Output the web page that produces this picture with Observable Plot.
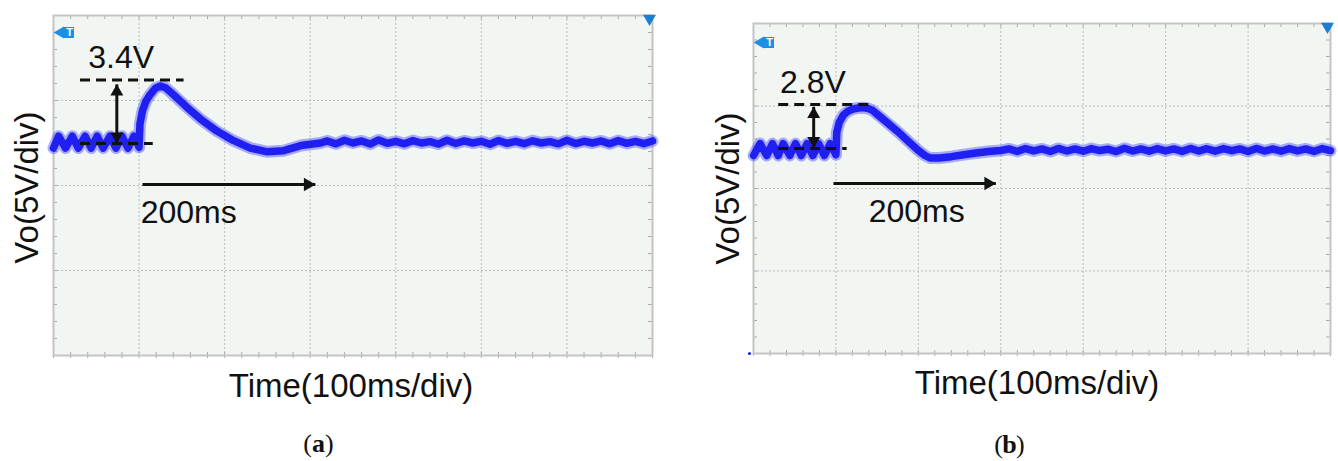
<!DOCTYPE html>
<html><head><meta charset="utf-8">
<script src="https://cdn.jsdelivr.net/npm/d3@7"></script>
<script src="https://cdn.jsdelivr.net/npm/@observablehq/plot@0.6"></script>
<style>
html,body{margin:0;padding:0;background:#fff;}
#wrap{position:relative;width:1338px;height:461px;overflow:hidden;background:#fff;}
#pa{position:absolute;left:0;top:0;}
#pb{position:absolute;left:700px;top:0;}
svg{overflow:visible}
</style></head>
<body><div id="wrap"><div id="pa"></div><div id="pb"></div></div>
<script>
// ---------- axis / grid definitions ----------
const X_DOMAIN = [0, 700];           // ms (100 ms/div, 7 div)
const Y_DOMAIN = [0, 20];            // V  (5 V/div, 4 div)
const X_GRID = [100, 200, 300, 400, 500, 600];
const Y_GRID = [5, 10, 15];
const X_MINOR = d3.range(0, 701, 20);
const Y_MINOR = d3.range(0, 21, 1);
const X_LABEL = "Time(100ms/div)";
const Y_LABEL = "Vo(5V/div)";

// ---------- panel (a) trace ----------
const timeA = [0,6,14,22,29,37,44,51,58,66,73,80,87,94,100,
  101,104,108,113,119,125,131,140,156,172,191,210,230,250,269,289,312,
  320,330,340,350,360,370,380,390,400,410,420,430,440,450,460,470,480,490,500,
  510,520,530,540,550,560,570,580,590,600,610,620,630,640,650,660,670,680,690,700];
const voltsA = [12.2,12.9,12.2,12.9,12.2,12.9,12.2,12.9,12.2,12.9,12.2,12.9,12.2,12.9,12.25,
  13.6,14.4,14.95,15.35,15.72,15.85,15.75,15.35,14.6,13.9,13.2,12.65,12.2,11.98,12.05,12.35,12.5,
  12.62,12.45,12.66,12.5,12.62,12.44,12.68,12.48,12.6,12.45,12.64,12.5,12.58,12.44,12.66,12.47,12.62,12.5,12.6,
  12.43,12.65,12.48,12.6,12.46,12.63,12.5,12.58,12.45,12.66,12.47,12.6,12.5,12.62,12.45,12.64,12.48,12.6,12.46,12.62];

// ---------- panel (b) trace ----------
const timeB = [0,8,16,23,30,36,44,51,58,65,72,79,86,93,100,
  101,104,109,115,121,127,133,139,144,150,162,175,187,199,208,214,225,240,255,270,285,300,
  310,320,330,340,350,360,370,380,390,400,410,420,430,440,450,460,470,480,490,500,
  510,520,530,540,550,560,570,580,590,600,610,620,630,640,650,660,670,680,690,700];
const voltsB = [12.0,12.72,12.0,12.72,12.0,12.72,12.0,12.72,12.0,12.72,12.0,12.72,12.0,12.72,12.05,
  13.4,14.0,14.45,14.7,14.82,14.88,14.9,14.85,14.75,14.5,14.0,13.45,12.9,12.35,12.0,11.85,11.85,11.93,12.05,12.15,12.24,12.3,
  12.4,12.25,12.42,12.28,12.4,12.24,12.43,12.27,12.4,12.26,12.42,12.3,12.38,12.24,12.44,12.27,12.4,12.26,12.42,12.28,
  12.4,12.25,12.43,12.27,12.41,12.26,12.42,12.29,12.4,12.24,12.43,12.27,12.4,12.26,12.42,12.28,12.4,12.25,12.42,12.3];

// ---------- annotations (data coordinates) ----------
const dashA = [{x1: 31, x2: 152, y: 16.2}, {x1: 31, x2: 116, y: 12.47}];
const vArrowA = [{x: 74, y1: 12.47, y2: 15.95}];
const hArrowA = [{x1: 104, x2: 306, y: 10.06}];
const textA = [{x: 79, y: 16.9, text: "3.4V"}, {x: 158, y: 7.82, text: "200ms"}];

const dashB = [{x1: 30, x2: 144, y: 15.09}, {x1: 30, x2: 113, y: 12.42}];
const vArrowB = [{x: 73, y1: 12.45, y2: 14.95}];
const hArrowB = [{x1: 97, x2: 294, y: 10.3}];
const textB = [{x: 72, y: 15.76, text: "2.8V"}, {x: 198, y: 7.94, text: "200ms"}];

const SANS = "Liberation Sans, Arial, Helvetica, sans-serif";
const SERIF = "Liberation Serif, Times New Roman, serif";
const INK = "#111";

function panel(cfg) {
  const H = 461;
  const fw = cfg.W - cfg.ml - cfg.mr, fh = H - cfg.mt - cfg.mb;
  const trace = cfg.time.map((t, i) => ({t, v: cfg.volts[i]}));
  const tick = "#a9a9a9";
  return Plot.plot({
    width: cfg.W, height: H,
    marginLeft: cfg.ml, marginRight: cfg.mr, marginTop: cfg.mt, marginBottom: cfg.mb,
    x: {domain: X_DOMAIN, axis: null},
    y: {domain: Y_DOMAIN, axis: null},
    style: {background: "transparent", overflow: "visible"},
    marks: [
      Plot.frame({fill: "#f1f6f3", stroke: null}),
      Plot.ruleX(X_GRID, {stroke: "#bcbcbc", strokeDasharray: "2,2"}),
      Plot.ruleY(Y_GRID, {stroke: "#bcbcbc", strokeDasharray: "2,2"}),
      Plot.ruleX(X_MINOR, {stroke: tick, insetBottom: fh - 4}),
      Plot.ruleX(X_MINOR, {stroke: tick, insetTop: fh - 3, insetBottom: -3}),
      Plot.ruleY(Y_MINOR, {stroke: tick, insetRight: fw - 4}),
      Plot.ruleY(Y_MINOR, {stroke: tick, insetLeft: fw - 4}),
      Plot.frame({stroke: "#c4c4c4", strokeWidth: 2}),
      // markers
      Plot.dot([0], {frameAnchor: "top-left", dx: cfg.tdx, dy: cfg.tdy, symbol: "square", r: 6.2, fill: "#1d8fe4"}),
      Plot.dot([0], {frameAnchor: "top-left", dx: cfg.tdx - 8, dy: cfg.tdy, symbol: "triangle", rotate: -90, r: 4.4, fill: "#1d8fe4"}),
      Plot.text(["T"], {text: d => d, frameAnchor: "top-left", dx: cfg.tdx + 1, dy: cfg.tdy, fill: "#fff", fontSize: 11, fontWeight: "bold", fontFamily: SANS, lineAnchor: "middle", textAnchor: "middle"}),
      Plot.dot([0], {frameAnchor: "top-right", dx: -3, dy: 3, symbol: "triangle", rotate: 180, r: 4.8, fill: "#1a7fd4"}),
      // trace
      Plot.line(trace, {x: "t", y: "v", stroke: "#3a3aff", strokeWidth: 12, strokeOpacity: 0.4}),
      Plot.line(trace, {x: "t", y: "v", stroke: "#1f1ff2", strokeWidth: 7.5}),
      // annotations
      Plot.link(cfg.dash, {x1: "x1", x2: "x2", y1: "y", y2: "y", stroke: INK, strokeWidth: 3, strokeDasharray: "10,6"}),
      Plot.link(cfg.vArrow, {x1: "x", x2: "x", y1: "y1", y2: "y2", stroke: INK, strokeWidth: 3}),
      Plot.dot(cfg.vArrow, {x: "x", y: "y2", symbol: "triangle", r: 4.8, fill: INK, dy: 7.4}),
      Plot.dot(cfg.vArrow, {x: "x", y: "y1", symbol: "triangle", rotate: 180, r: 4.8, fill: INK, dy: -7.4}),
      Plot.link(cfg.hArrow, {x1: "x1", x2: "x2", y1: "y", y2: "y", stroke: INK, strokeWidth: 3}),
      Plot.dot(cfg.hArrow, {x: "x2", y: "y", symbol: "triangle", rotate: 90, r: 5, fill: INK, dx: -7.6}),
      Plot.text(cfg.texts, {x: "x", y: "y", text: "text", fontSize: 32, lineAnchor: "bottom", fill: INK, fontFamily: SANS}),
      // axis labels
      Plot.text([Y_LABEL], {text: d => d, frameAnchor: "left", dx: cfg.yDx, dy: cfg.yDy, rotate: -90, fontSize: 33, fill: INK, fontFamily: SANS, lineAnchor: "middle", textAnchor: "middle"}),
      Plot.text([X_LABEL], {text: d => d, frameAnchor: "bottom", dx: cfg.xDx, dy: cfg.xDy, fontSize: 33, fill: INK, fontFamily: SANS, lineAnchor: "middle", textAnchor: "middle"}),
      // caption
      Plot.text(["("], {text: d => d, frameAnchor: "bottom", dx: cfg.cDx - 6.5, dy: cfg.cDy, textAnchor: "end", fontSize: 26, fill: INK, fontFamily: SERIF, lineAnchor: "bottom"}),
      Plot.text([cfg.cap], {text: d => d, frameAnchor: "bottom", dx: cfg.cDx, dy: cfg.cDy, textAnchor: "middle", fontSize: 26, fontWeight: "bold", fill: INK, fontFamily: SERIF, lineAnchor: "bottom"}),
      Plot.text([")"], {text: d => d, frameAnchor: "bottom", dx: cfg.cDx + 6.5, dy: cfg.cDy, textAnchor: "start", fontSize: 26, fill: INK, fontFamily: SERIF, lineAnchor: "bottom"}),
      ...(cfg.extraDot ? [Plot.dot([0], {frameAnchor: "bottom-left", dx: -4, r: 1.6, fill: "#2222ee"})] : [])
    ]
  });
}

document.getElementById("pa").appendChild(panel({
  time: timeA, volts: voltsA, dash: dashA, vArrow: vArrowA, hArrow: hArrowA, texts: textA,
  W: 700, ml: 53, mr: 48, mt: 15, mb: 106,
  tdx: 15, tdy: 17, yDx: -26, yDy: 2, xDx: -2, xDy: 31, cap: "a", cDx: -34.5, cDy: 96
}));
document.getElementById("pb").appendChild(panel({
  time: timeB, volts: voltsB, dash: dashB, vArrow: vArrowB, hArrow: hArrowB, texts: textB,
  W: 638, ml: 53, mr: 8, mt: 23, mb: 108,
  tdx: 15, tdy: 19, yDx: -25, yDy: 0, xDx: -5, xDy: 30, cap: "b", cDx: -32.5, cDy: 99, extraDot: true
}));
</script>
</body></html>
